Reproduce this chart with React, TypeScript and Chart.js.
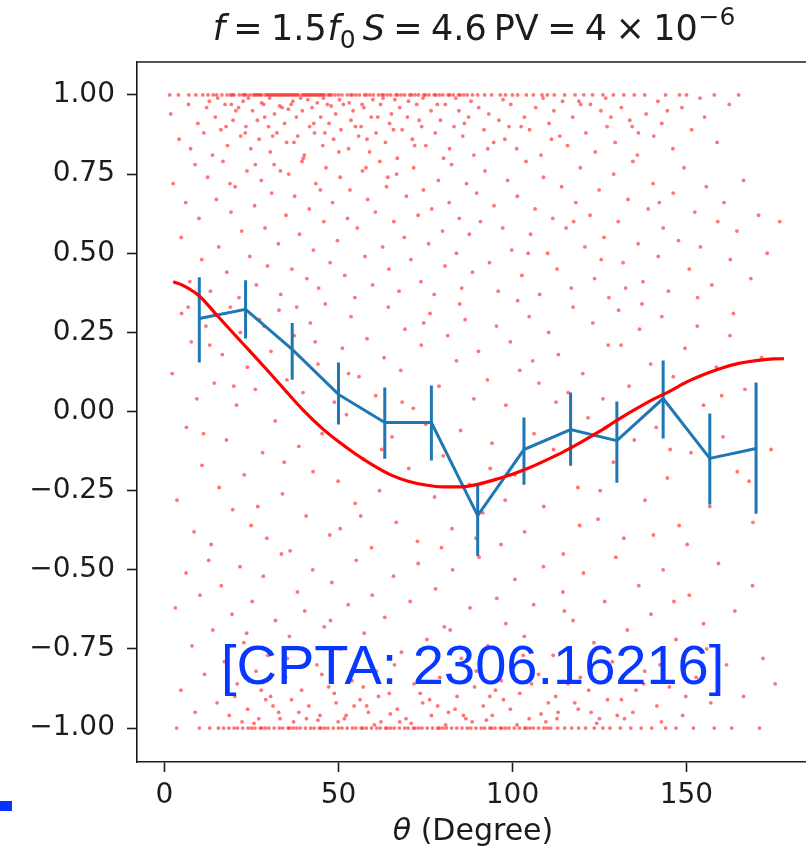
import React, { useEffect, useRef } from 'react';
import { Chart, registerables } from 'chart.js';
Chart.register(...registerables);

// ---------- axis ticks ----------
const xTicks = [0, 50, 100, 150];
const yTicks = [-1, -0.75, -0.5, -0.25, 0, 0.25, 0.5, 0.75, 1];

// ---------- binned mean with error bars (blue) ----------
const binTheta = [10, 23.3, 36.7, 50, 63.3, 76.7, 90, 103.3, 116.7, 130, 143.3, 156.7, 170];
const binMean = [0.294, 0.323, 0.196, 0.054, -0.035, -0.035, -0.329, -0.12, -0.057, -0.092, 0.041, -0.148, -0.117];
const binLow = [0.155, 0.231, 0.1, -0.041, -0.149, -0.155, -0.456, -0.231, -0.171, -0.225, -0.085, -0.294, -0.323];
const binHigh = [0.424, 0.415, 0.28, 0.155, 0.076, 0.082, -0.228, -0.019, 0.06, 0.032, 0.161, -0.006, 0.092];

// ---------- model curve (red) ----------
const curveTheta = [2.5, 5, 10, 15, 20, 25, 30, 35, 40, 45, 50, 55, 60, 65, 70, 75, 80, 85, 90, 95, 100, 105, 110, 115, 120, 125, 130, 135, 140, 145, 150, 155, 160, 165, 170, 175, 178];
const curveValue = [0.41, 0.4, 0.365, 0.305, 0.245, 0.185, 0.125, 0.063, 0.003, -0.05, -0.095, -0.135, -0.17, -0.2, -0.22, -0.232, -0.238, -0.238, -0.23, -0.215, -0.198, -0.177, -0.152, -0.125, -0.095, -0.063, -0.028, 0.005, 0.036, 0.063, 0.093, 0.117, 0.137, 0.152, 0.161, 0.166, 0.167];

// ---------- pulsar-pair points (red dots) ----------
const topBandValue = 1.0;
const topBandTheta = [1.5, 4, 7, 9, 11, 12.5, 14, 15, 16.5, 18, 19, 20, 21.5, 22.5, 23.5, 24.5, 25.5, 26.5, 27.5, 28, 29, 30, 31, 32, 32.5, 33.5, 34.5, 35, 36, 37, 37.5, 38.5, 39.5, 40, 41, 42, 43, 43.5, 44.5, 45.5, 46, 47, 48, 49, 50, 51, 52.5, 53.5, 55, 56, 57.5, 59, 60, 61.5, 62.5, 64, 65, 66.5, 68, 69, 70.5, 72, 73, 74.5, 76, 77.5, 79, 80, 81.5, 83, 84.5, 86, 87, 88.5, 90, 92, 94, 96.5, 98, 100, 101.5, 104, 106, 108.5, 110, 112, 115, 118, 120.5, 123, 126, 129, 132, 135, 138, 144, 148, 150, 158, 165, 19.5, 23, 26, 29.5, 31.5, 34, 36.5, 38, 41.5, 44, 47.5, 35.5, 40.5, 45, 27, 33, 42.5, 30.5, 54, 58, 63, 67, 71, 75, 78, 82, 85];
const bottomBandValue = -1.0;
const bottomBandTheta = [3.5, 10, 13, 15.5, 17, 18.5, 20, 21, 22.5, 24, 25, 26, 27.5, 29, 30, 31.5, 33, 34, 35.5, 37, 38, 39, 40.5, 42, 43, 44.5, 46, 47, 48.5, 50, 51, 52.5, 54, 55, 56.5, 58, 59.5, 61, 62, 63.5, 65, 66, 67.5, 69, 70, 71.5, 73, 74, 75.5, 77, 78.5, 80, 81, 82.5, 84, 85.5, 87, 88, 89.5, 91, 92, 93.5, 95, 96.5, 98, 99, 100.5, 102, 103.5, 105, 106, 107.5, 109, 111, 113, 115, 117, 119, 121, 123.5, 126, 128, 131, 134, 137, 140, 144, 147, 152, 158, 163, 171, 28, 36, 45, 57, 64, 72, 79, 94, 97, 104, 110];

const cloudUpperLeft: [number, number][] = [[1.8,0.94],[4.2,0.86],[6.9,0.97],[7.5,0.83],[9.6,0.91],[11.3,0.88],[12.1,0.96],[13.8,0.81],[14.6,0.93],[16.2,0.89],[17.4,0.97],[18.1,0.84],[19.7,0.92],[20.5,0.95],[21.9,0.87],[22.6,0.98],[23.4,0.9],[24.8,0.83],[25.3,0.95],[26.7,0.92],[27.2,0.86],[28.5,0.97],[29.9,0.9],[30.4,0.82],[31.6,0.94],[32.3,0.88],[33.8,0.96],[34.5,0.91],[35.1,0.85],[36.4,0.97],[37.9,0.93],[38.3,0.87],[39.6,0.95],[40.2,0.81],[41.7,0.9],[42.4,0.96],[43.1,0.88],[44.9,0.93],[45.5,0.84],[46.8,0.97],[47.3,0.91],[48.6,0.86],[49.2,0.94],[50.7,0.89],[51.4,0.97],[52.9,0.83],[53.6,0.92],[54.2,0.95],[55.8,0.87],[56.5,0.9],[57.3,0.96],[58.9,0.82],[59.4,0.93],[60.8,0.88],[62.1,0.97],[63.5,0.85],[64.7,0.91],[65.2,0.94],[66.9,0.8],[67.6,0.96],[68.3,0.89],[69.8,0.93],[71.2,0.86],[72.5,0.97],[73.9,0.9],[75.1,0.84],[76.6,0.95],[77.8,0.88],[79.3,0.92],[80.7,0.97],[81.9,0.83],[83.2,0.9],[84.6,0.95],[85.7,0.87],[87.4,0.93],[88.9,0.81],[90.3,0.96],[91.8,0.89],[93.2,0.94],[94.6,0.85]];
const cloudUpperRight: [number, number][] = [[96.1,0.92],[97.8,0.86],[99.5,0.97],[101.2,0.83],[103.4,0.93],[104.9,0.89],[106.7,0.96],[108.2,0.81],[110.5,0.91],[111.9,0.95],[113.6,0.87],[115.8,0.84],[117.3,0.93],[119.6,0.97],[121.1,0.88],[123.8,0.82],[125.4,0.95],[127.2,0.9],[129.5,0.85],[131.3,0.96],[133.7,0.92],[135.9,0.81],[138.4,0.94],[140.6,0.87],[142.9,0.91],[146.1,0.83],[148.7,0.96],[151.5,0.89],[155.2,0.93],[158.8,0.85],[162.3,0.97],[99,0.9],[114.4,0.98],[128.3,0.93],[136.2,0.88],[144.5,0.95]];
const cloudTopExtra: [number, number][] = [[15.3,0.99],[41.2,0.985],[27.9,0.975],[62.8,0.99],[33.1,0.965],[50.3,0.985],[19.2,0.97],[70.1,0.98],[45.7,0.99],[56.8,0.97],[24.1,0.99],[36.9,0.98],[83.7,0.99],[12.9,0.98],[66.2,0.985],[30.2,0.99],[53.1,0.975],[78.4,0.97],[39.1,0.99],[47.9,0.965],[88.1,0.98],[21.3,0.96],[59.9,0.985],[74.3,0.99],[35.6,0.955],[43.9,0.975],[97.3,0.985],[108.8,0.99],[119.1,0.98],[126.8,0.99],[17.7,0.9],[28.8,0.93],[42.9,0.91],[54.9,0.9],[61.3,0.93],[73.2,0.92],[31.1,0.87],[46.1,0.88],[65.8,0.89],[37.2,0.85],[23.2,0.88],[58.2,0.86],[86.2,0.91],[50.1,0.82],[39.9,0.8],[26.1,0.78],[71.9,0.84],[80.2,0.8],[33.3,0.76],[44.8,0.7],[57.9,0.77],[18.8,0.72],[64.2,0.74],[92.9,0.83],[102.5,0.9],[111.2,0.86],[122.4,0.97],[134.4,0.9],[141.8,0.98],[153.9,0.99]];
const cloudHighLeft: [number, number][] = [[2.5,0.72],[4.8,0.55],[6.1,0.66],[7.3,0.41],[8.8,0.78],[9.9,0.61],[10.7,0.48],[12.4,0.74],[13.2,0.38],[14.9,0.67],[15.6,0.52],[16.8,0.79],[17.9,0.44],[19.1,0.63],[20.3,0.71],[21.4,0.36],[22.2,0.57],[23.7,0.76],[24.5,0.49],[25.9,0.65],[26.4,0.4],[27.8,0.73],[28.9,0.58],[29.6,0.46],[30.8,0.69],[31.5,0.78],[32.7,0.53],[33.4,0.37],[34.9,0.62],[35.7,0.75],[36.6,0.45],[37.4,0.68],[38.8,0.56],[39.5,0.79],[40.9,0.42],[41.6,0.64],[42.8,0.51],[43.5,0.72],[44.3,0.39],[45.8,0.6],[46.4,0.77],[47.6,0.47],[48.3,0.66],[49.7,0.54],[50.5,0.74],[51.8,0.43],[52.6,0.61],[53.3,0.7],[54.7,0.36],[55.4,0.58],[56.9,0.76],[57.6,0.49],[58.4,0.67],[59.8,0.4],[60.6,0.63],[61.9,0.79],[62.7,0.52],[63.8,0.71],[64.5,0.45],[65.9,0.6],[66.7,0.75],[67.4,0.38],[68.9,0.55],[69.5,0.68],[70.8,0.48],[71.6,0.77],[72.9,0.62],[73.7,0.41],[74.4,0.7],[75.9,0.53],[76.8,0.64],[77.5,0.37],[78.7,0.73],[79.9,0.57],[80.6,0.46],[81.8,0.66],[82.5,0.78],[83.9,0.5],[84.7,0.61],[85.4,0.39],[86.8,0.72],[87.6,0.56],[88.5,0.44],[89.7,0.69],[90.8,0.6],[92.1,0.76],[93.4,0.47],[94.7,0.65],[95.9,0.38],[97.2,0.58],[98.6,0.73],[99.8,0.51]];
const cloudHighRight: [number, number][] = [[101.4,0.68],[102.7,0.43],[103.9,0.79],[105.2,0.56],[106.5,0.64],[107.8,0.37],[108.9,0.74],[110.1,0.5],[111.6,0.61],[112.8,0.45],[114.1,0.71],[115.4,0.58],[116.9,0.39],[118.2,0.66],[119.5,0.77],[120.8,0.52],[122.3,0.62],[123.6,0.42],[124.9,0.7],[126.3,0.55],[127.7,0.36],[129.1,0.75],[130.4,0.6],[131.8,0.47],[133.2,0.67],[134.6,0.79],[136.1,0.53],[137.5,0.41],[139,0.64],[140.4,0.72],[141.9,0.49],[143.3,0.58],[144.8,0.38],[146.2,0.69],[147.7,0.54],[149.3,0.77],[150.8,0.45],[152.4,0.63],[154,0.52],[155.7,0.71],[157.3,0.4],[159,0.6],[160.8,0.66],[162.6,0.48],[164.5,0.57],[166.4,0.73],[168.5,0.42],[170.7,0.62],[173.2,0.5],[176.8,0.6],[104.5,0.5],[117.6,0.6],[125.5,0.48],[132.5,0.39],[142.2,0.66],[153.2,0.36]];
const cloudMiddle: [number, number][] = [[2.2,0.12],[3.6,-0.28],[4.9,0.31],[6.3,-0.05],[7.7,0.22],[8.5,-0.38],[9.3,0.04],[10.8,-0.17],[11.9,0.27],[13.4,-0.42],[14.3,0.09],[15.7,-0.24],[16.6,0.18],[17.8,-0.09],[18.9,0.33],[19.6,-0.31],[20.7,0.02],[21.8,0.25],[22.9,-0.2],[23.8,0.14],[24.9,-0.36],[26.1,0.07],[27.3,0.29],[28.2,-0.13],[29.4,-0.4],[30.6,0.19],[31.8,-0.03],[32.9,0.32],[33.9,-0.26],[35.2,0.1],[36.1,-0.44],[37.3,0.24],[38.6,-0.11],[39.8,0.06],[40.7,-0.33],[41.9,0.28],[42.7,-0.19],[44.1,0.15],[45.3,-0.07],[46.2,0.34],[47.5,-0.39],[48.8,0.03],[49.9,-0.22],[51.1,0.2],[52.3,-0.01],[53.6,0.3],[54.8,-0.29],[55.9,0.11],[57.1,-0.15],[58.2,0.23],[59.5,-0.43],[60.7,0.05],[61.8,-0.25],[63.1,0.17],[64.3,0.33],[65.4,-0.08],[66.6,-0.35],[67.9,0.13],[69.1,0.26],[70.2,-0.18],[71.5,0.01],[72.7,-0.41],[73.8,0.21],[75.1,-0.04],[76.3,0.31],[77.6,-0.27],[78.9,0.08],[80.1,-0.14],[81.4,0.24],[82.6,-0.37],[83.9,0.16],[85.1,-0.06],[86.4,0.29],[87.7,-0.23],[88.9,0.04],[90.2,0.19],[91.5,-0.32],[92.8,0.1],[94.1,-0.1],[95.4,0.27],[96.7,-0.42],[98.1,0.02],[99.4,0.22],[100.7,-0.2],[102.1,0.13],[103.5,-0.38],[104.8,0.3],[106.2,-0.07],[107.6,0.09],[109,-0.3],[110.4,0.25],[111.8,-0.12],[113.2,0.18],[114.6,-0.45],[116,0.06],[117.4,0.33],[118.8,-0.24],[120.2,0.12],[121.7,-0.02],[123.1,0.28],[124.6,-0.34],[126,0.04],[127.5,0.21],[129,-0.16],[130.5,0.32],[132,-0.4],[133.5,0.08],[135,-0.09],[136.5,0.26],[138.1,-0.28],[139.7,0.15],[141.3,-0.05],[142.9,0.3],[144.5,-0.21],[146.2,0.11],[147.9,-0.36],[149.6,0.2],[151.3,-0.13],[153.1,0.27],[154.9,0.02],[156.7,-0.3],[158.6,0.14],[160.5,-0.08],[162.5,0.24],[164.6,-0.19],[166.8,0.07],[169.1,-0.35],[171.6,0.17],[174.3,-0.12],[13,0.21],[26.8,-0.3],[38,0.33],[50.5,-0.37],[62.4,-0.12],[74.5,0.28],[89.5,-0.4],[101.5,0.35],[112.5,0.03],[125.2,-0.25],[137.2,0.34],[150.2,-0.42],[163.5,0.31]];
const cloudMidExtra: [number, number][] = [[11.2,-0.07],[19.9,0.08],[34.4,-0.16],[43.3,0.22],[56.4,-0.33],[68.3,0.03],[79.6,-0.43],[93.6,-0.18],[105.8,0.16],[119.3,-0.36],[131.2,0.21],[145.3,-0.12],[160.1,0.05],[168,-0.22],[6.8,0.33],[28.6,0.27],[52.9,0.12],[84.8,0.34],[97.9,-0.28],[140.5,-0.39]];
const cloudLow: [number, number][] = [[3.1,-0.62],[4.7,-0.88],[6.2,-0.51],[7.9,-0.74],[8.8,-0.95],[10.2,-0.58],[11.5,-0.83],[12.7,-0.47],[13.9,-0.69],[15.1,-0.92],[16.3,-0.55],[17.2,-0.79],[18.6,-0.96],[19.4,-0.64],[20.9,-0.86],[21.7,-0.49],[22.8,-0.73],[23.9,-0.94],[25.2,-0.6],[26.3,-0.82],[27.1,-0.97],[28.4,-0.52],[29.7,-0.77],[30.5,-0.9],[31.9,-0.66],[32.8,-0.95],[33.6,-0.45],[34.8,-0.84],[35.9,-0.71],[37.1,-0.98],[38.2,-0.57],[39.4,-0.88],[40.3,-0.63],[41.5,-0.93],[42.6,-0.5],[43.8,-0.8],[44.7,-0.96],[45.9,-0.68],[47.2,-0.87],[48.1,-0.54],[49.3,-0.92],[50.6,-0.75],[51.7,-0.97],[52.8,-0.61],[53.9,-0.85],[55.1,-0.47],[56.2,-0.91],[57.4,-0.7],[58.6,-0.95],[59.7,-0.58],[60.9,-0.82],[62.2,-0.98],[63.3,-0.65],[64.6,-0.89],[65.8,-0.52],[66.9,-0.94],[68.1,-0.76],[69.4,-0.97],[70.6,-0.6],[71.7,-0.86],[72.9,-0.48],[74.2,-0.92],[75.4,-0.72],[76.7,-0.96],[77.9,-0.56],[79.1,-0.84],[80.4,-0.68],[81.6,-0.95],[82.8,-0.5],[84.1,-0.9],[85.3,-0.78],[86.6,-0.97],[87.8,-0.62],[89.1,-0.87],[90.4,-0.46],[91.6,-0.93],[92.9,-0.74],[94.2,-0.96],[95.5,-0.59],[96.8,-0.85],[98.1,-0.67],[99.4,-0.94],[100.7,-0.53],[102.1,-0.89],[103.4,-0.71],[104.8,-0.97],[106.1,-0.61],[107.5,-0.83],[108.9,-0.49],[110.3,-0.92],[111.7,-0.77],[113.1,-0.95],[114.5,-0.57],[116,-0.86],[117.4,-0.66],[118.9,-0.94],[120.4,-0.51],[121.9,-0.88],[123.4,-0.73],[125,-0.97],[126.5,-0.6],[128.1,-0.84],[129.7,-0.46],[131.3,-0.91],[133,-0.69],[134.6,-0.95],[136.3,-0.55],[138,-0.82],[139.8,-0.64],[141.5,-0.93],[143.3,-0.5],[145.1,-0.87],[147,-0.72],[148.9,-0.96],[150.8,-0.58],[152.8,-0.84],[154.9,-0.67],[157,-0.92],[159.2,-0.48],[161.5,-0.8],[163.9,-0.63],[166.4,-0.9],[169,-0.55],[172,-0.78],[175.5,-0.86],[20.2,-0.9],[27.8,-0.88],[36.5,-0.91],[45.2,-0.83],[54.5,-0.93],[61.5,-0.9],[73.5,-0.89],[83.5,-0.94],[93.5,-0.9],[105.5,-0.86],[112.4,-0.9],[119.5,-0.84],[127.3,-0.91],[135.5,-0.88],[142.4,-0.8],[22.3,-0.98],[31.2,-0.93],[40.8,-0.97],[49.9,-0.98],[58.1,-0.93],[67.6,-0.98],[78.5,-0.93],[88.4,-0.98],[97.4,-0.91],[109.6,-0.98],[122.6,-0.95],[132.2,-0.97]];
const cloudBottomExtra: [number, number][] = [[25.7,-0.985],[44.1,-0.975],[60.3,-0.99],[33.2,-0.97],[70.9,-0.985],[52.2,-0.96],[80.8,-0.99],[92.5,-0.975],[101.3,-0.99],[112.8,-0.97],[124.2,-0.985],[38.6,-0.95],[64.9,-0.955],[85.9,-0.96],[108.2,-0.955],[130.1,-0.96],[142.8,-0.98],[29.1,-0.91],[48.8,-0.89],[57.1,-0.87],[76.2,-0.91],[95.1,-0.88],[117.9,-0.92],[137.7,-0.86],[149.8,-0.9],[18.1,-0.83],[35.3,-0.78],[66.1,-0.8],[89.6,-0.82],[103.1,-0.77],[128.7,-0.79],[155.8,-0.75],[23.6,-0.7],[47.7,-0.66],[82.1,-0.69],[114.9,-0.63],[146.4,-0.6]];

const titleText = 'f = 1.5f₀ S = 4.6 PV = 4 × 10⁻⁶';
const xLabelSymbol = 'θ';
const xLabelRest = ' (Degree)';
const watermark = '[CPTA: 2306.16216]';

const FONT = '"DejaVu Sans", "Noto Sans", sans-serif';
const INK = '#1c1c1c';

// math-style title pieces: text, italic, script (sub/sup), gap before (em)
const titleParts: { t: string; it?: boolean; sc?: 'sub' | 'sup'; gap: number }[] = [
  { t: 'f', it: true, gap: 0 },
  { t: '=', gap: 0.24 },
  { t: '1.5', gap: 0.24 },
  { t: 'f', it: true, gap: 0.02 },
  { t: '0', sc: 'sub', gap: 0.0 },
  { t: 'S', it: true, gap: 0.2 },
  { t: '=', gap: 0.24 },
  { t: '4.6', gap: 0.24 },
  { t: 'PV', gap: 0.2 },
  { t: '=', gap: 0.24 },
  { t: '4', gap: 0.24 },
  { t: '×', gap: 0.24 },
  { t: '10', gap: 0.24 },
  { t: '\u22126', sc: 'sup', gap: 0.02 },
];

const decorPlugin = {
  id: 'decor',
  afterDraw(chart: any) {
    const { ctx, chartArea } = chart;
    ctx.save();
    ctx.strokeStyle = INK;
    ctx.lineWidth = 1.6;
    ctx.beginPath();
    ctx.moveTo(chartArea.left, chartArea.top);
    ctx.lineTo(chartArea.right, chartArea.top);
    ctx.lineTo(chartArea.right, chartArea.bottom);
    ctx.stroke();

    // title
    ctx.fillStyle = INK;
    ctx.textBaseline = 'alphabetic';
    ctx.textAlign = 'left';
    const size = 35;
    const fontFor = (p: any) => `${p.it ? 'oblique ' : ''}${p.sc ? Math.round(size * 0.7) : size}px ${FONT}`;
    let total = 0;
    const widths: number[] = [];
    for (const p of titleParts) {
      ctx.font = fontFor(p);
      const w = ctx.measureText(p.t).width;
      widths.push(w);
      total += p.gap * size + w;
    }
    let x = 474 - total / 2;
    const base = 40;
    titleParts.forEach((p, i) => {
      x += p.gap * size;
      ctx.font = fontFor(p);
      const dy = p.sc === 'sub' ? 0.22 * size : p.sc === 'sup' ? -0.42 * size : 0;
      ctx.fillText(p.t, x, base + dy);
      x += widths[i];
    });

    // x-axis label
    ctx.font = `oblique 30px ${FONT}`;
    const w1 = ctx.measureText(xLabelSymbol).width;
    ctx.font = `30px ${FONT}`;
    const w2 = ctx.measureText(xLabelRest).width;
    const sx = 473 - (w1 + w2) / 2;
    ctx.font = `oblique 30px ${FONT}`;
    ctx.fillText(xLabelSymbol, sx, 840);
    ctx.font = `30px ${FONT}`;
    ctx.fillText(xLabelRest, sx + w1, 840);

    // watermark
    ctx.font = '56px "Liberation Sans", Arial, sans-serif';
    ctx.fillStyle = 'rgb(8, 56, 255)';
    ctx.fillText(watermark, 221, 684);
    ctx.restore();
  },
};

export default function App() {
  const ref = useRef<HTMLCanvasElement | null>(null);
  useEffect(() => {
    document.body.style.margin = '0';
    const canvas = ref.current;
    if (!canvas) return;

    const clouds = [...cloudUpperLeft, ...cloudUpperRight, ...cloudTopExtra, ...cloudHighLeft, ...cloudHighRight, ...cloudMiddle, ...cloudMidExtra, ...cloudLow, ...cloudBottomExtra];
    const dots = [
      ...topBandTheta.map((t) => ({ x: t, y: topBandValue })),
      ...bottomBandTheta.map((t) => ({ x: t, y: bottomBandValue })),
      ...clouds.map(([x, y]) => ({ x, y })),
    ];
    const meanPts = binTheta.map((t, i) => ({ x: t, y: binMean[i] }));
    const errPts: any[] = [];
    binTheta.forEach((t, i) => {
      errPts.push({ x: t, y: binLow[i] }, { x: t, y: binHigh[i] }, { x: t, y: null });
    });
    const curvePts = curveTheta.map((t, i) => ({ x: t, y: curveValue[i] }));

    const chart = new Chart(canvas, {
      type: 'scatter',
      data: {
        datasets: [
          {
            data: dots,
            order: 10,
            backgroundColor: 'rgba(255, 25, 25, 0.6)',
            borderWidth: 0,
            pointRadius: 1.9,
            pointHoverRadius: 1.9,
            showLine: false,
          },
          {
            data: meanPts,
            order: 3,
            showLine: true,
            borderColor: '#1f77b4',
            borderWidth: 3,
            pointRadius: 0,
            fill: false,
          },
          {
            data: errPts,
            order: 2,
            showLine: true,
            spanGaps: false,
            borderColor: '#1f77b4',
            borderWidth: 3,
            pointRadius: 0,
            fill: false,
          },
          {
            data: curvePts,
            order: 1,
            showLine: true,
            borderColor: '#ff0000',
            borderWidth: 3.2,
            pointRadius: 0,
            cubicInterpolationMode: 'monotone',
            fill: false,
          },
        ] as any,
      },
      options: {
        responsive: false,
        animation: false,
        devicePixelRatio: 1,
        layout: { padding: { left: 0, top: 62, right: 20, bottom: 0 } },
        plugins: { legend: { display: false }, tooltip: { enabled: false }, title: { display: false } },
        scales: {
          x: {
            type: 'linear',
            min: -7.9,
            max: 185.5,
            afterFit: (s: any) => { s.height = 88; },
            afterBuildTicks: (s: any) => { s.ticks = xTicks.map((v) => ({ value: v })); },
            ticks: {
              autoSkip: false,
              maxRotation: 0,
              padding: 7,
              color: INK,
              font: { family: FONT, size: 28 },
              callback: (v: any) => String(v),
            },
            grid: { drawOnChartArea: false, drawTicks: true, tickLength: 10, tickWidth: 1.6, tickColor: INK },
            border: { display: true, color: INK, width: 1.6 },
          },
          y: {
            type: 'linear',
            min: -1.107,
            max: 1.104,
            afterFit: (s: any) => { s.width = 137; },
            afterBuildTicks: (s: any) => { s.ticks = yTicks.map((v) => ({ value: v })); },
            ticks: {
              autoSkip: false,
              padding: 12,
              color: INK,
              font: { family: FONT, size: 28 },
              callback: (v: any) => {
                const n = Number(v);
                return (n < 0 ? '\u2212' : '') + Math.abs(n).toFixed(2);
              },
            },
            grid: { drawOnChartArea: false, drawTicks: true, tickLength: 10, tickWidth: 1.6, tickColor: INK },
            border: { display: true, color: INK, width: 1.6 },
          },
        },
      } as any,
      plugins: [decorPlugin],
    });
    return () => chart.destroy();
  }, []);

  return (
    <div style={{ position: 'relative', width: 806, height: 850, overflow: 'hidden', background: '#fff' }}>
      <canvas ref={ref} width={830} height={850} style={{ display: 'block' }} aria-label={titleText} />
      <div style={{ position: 'absolute', left: 0, top: 801, width: 12, height: 10, background: '#0433ff' }} />
    </div>
  );
}
